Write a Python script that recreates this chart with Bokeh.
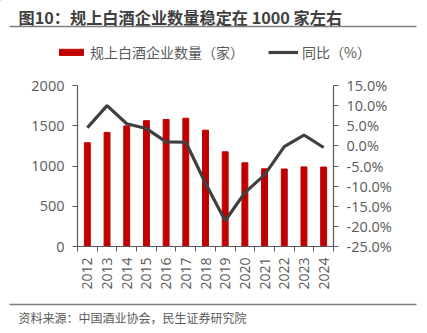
from bokeh.plotting import figure
from bokeh.layouts import column
from bokeh.models import (Range1d, LinearAxis, FixedTicker, PrintfTickFormatter,
                          Legend, LegendItem, Label, ColumnDataSource)
from bokeh.embed import file_html
from bokeh.resources import INLINE
import math

years = ["2012", "2013", "2014", "2015", "2016", "2017", "2018",
         "2019", "2020", "2021", "2022", "2023", "2024"]
counts = [1289, 1417, 1498, 1563, 1578, 1593, 1445, 1176, 1040, 965, 963, 989, 987]
yoy = [4.5, 10.0, 5.5, 4.3, 1.0, 0.9, -9.3, -18.6, -11.6, -7.2, -0.2, 2.7, -0.4]
left_ticks = [0, 500, 1000, 1500, 2000]
right_ticks = [-25, -20, -15, -10, -5, 0, 5, 10, 15]

title_text = "图10：规上白酒企业数量稳定在 1000 家左右"
source_text = "资料来源：中国酒业协会，民生证券研究院"
bar_name = "规上白酒企业数量（家）"
line_name = "同比（%）"

FONT_CJK = "Noto Sans CJK SC"
FONT_NUM = "Open Sans"
GRAY = "#595959"
RED = "#C00000"
DARK = "#404040"
W = 427


def blank_fig(height, y0, y1):
    f = figure(width=W, height=height, output_backend="svg", toolbar_location=None,
               x_range=Range1d(0, W), y_range=Range1d(y1, y0),
               min_border=0, x_axis_type=None, y_axis_type=None)
    f.outline_line_color = None
    f.xgrid.visible = False
    f.ygrid.visible = False
    f.frame_align = False
    return f


# ---------- top: title, rule, legend ----------
top = blank_fig(66, 0, 66)
top.add_layout(Label(x=18, y=16, text=title_text, text_font=FONT_CJK,
                     text_font_style="bold", text_font_size="16.2px",
                     text_color=DARK, text_baseline="middle"))
top.segment(x0=[9], y0=[26], x1=[416], y1=[26], line_color="#7f7f7f", line_width=1.5)
# legend swatches (drawn off the visible range, only used for the legend keys)
leg_bar = top.vbar(x=[-100], top=[-100], width=0.3, color=RED)
leg_line = top.line(x=[-100, -90], y=[-100, -100], line_color=DARK, line_width=3.2)
legend = Legend(items=[LegendItem(label=bar_name, renderers=[leg_bar]),
                       LegendItem(label=line_name, renderers=[leg_line])],
                orientation="horizontal", location=(56, 4),
                glyph_width=30, glyph_height=8, label_standoff=4, spacing=24,
                padding=0, margin=0, border_line_color=None,
                background_fill_alpha=0,
                label_text_font=FONT_CJK, label_text_font_size="14px",
                label_text_color=GRAY)
top.add_layout(legend, "center")

# ---------- main chart ----------
idx = list(range(len(years)))
src = ColumnDataSource(dict(x=idx, year=years, count=counts, yoy=yoy))

p = figure(width=W, height=234, output_backend="svg", toolbar_location=None,
           x_range=Range1d(-0.5, len(years) - 0.5), y_range=Range1d(0, 2000),
           min_border_left=77, min_border_right=94, min_border_top=19,
           min_border_bottom=54, x_axis_type=None, y_axis_type=None)
p.outline_line_color = None
p.xgrid.visible = False
p.ygrid.visible = False
p.frame_align = False
p.extra_y_ranges = {"pct": Range1d(-25, 15)}

bars = p.vbar(x="x", top="count", width=0.3, source=src, color=RED)
line = p.line(x="x", y="yoy", source=src, y_range_name="pct",
              line_color=DARK, line_width=3.2)


def style_axis(ax):
    ax.axis_line_color = GRAY
    ax.axis_line_width = 1.2
    ax.major_tick_line_color = GRAY
    ax.major_tick_out = 5
    ax.major_tick_in = 0
    ax.minor_tick_line_color = None
    ax.major_label_text_color = GRAY
    ax.major_label_text_font = FONT_NUM
    ax.major_label_text_font_size = "14.5px"
    ax.major_label_standoff = 8


xaxis = LinearAxis(ticker=FixedTicker(ticks=idx,
                                      minor_ticks=[i - 0.5 for i in range(len(years) + 1)]))
style_axis(xaxis)
xaxis.major_tick_line_color = None
xaxis.minor_tick_line_color = GRAY
xaxis.minor_tick_out = 5
xaxis.minor_tick_in = 0
xaxis.major_label_overrides = {i: y for i, y in zip(idx, years)}
xaxis.major_label_orientation = math.pi / 2
xaxis.major_label_text_font_size = "14px"
xaxis.major_label_standoff = 6
p.add_layout(xaxis, "below")

yaxis = LinearAxis(ticker=FixedTicker(ticks=left_ticks))
style_axis(yaxis)
p.add_layout(yaxis, "left")

raxis = LinearAxis(y_range_name="pct", ticker=FixedTicker(ticks=right_ticks),
                   formatter=PrintfTickFormatter(format="%.1f%%"))
style_axis(raxis)
p.add_layout(raxis, "right")

# ---------- bottom: rule and source ----------
bot = blank_fig(33, 300, 333)
bot.segment(x0=[9], y0=[304], x1=[416], y1=[304], line_color="#7f7f7f", line_width=1.5)
bot.add_layout(Label(x=18, y=317, text=source_text, text_font=FONT_CJK,
                     text_font_size="12px", text_color=GRAY, text_baseline="middle"))

layout = column(top, p, bot, spacing=0)
open("out.html", "w").write(file_html(layout, INLINE))
